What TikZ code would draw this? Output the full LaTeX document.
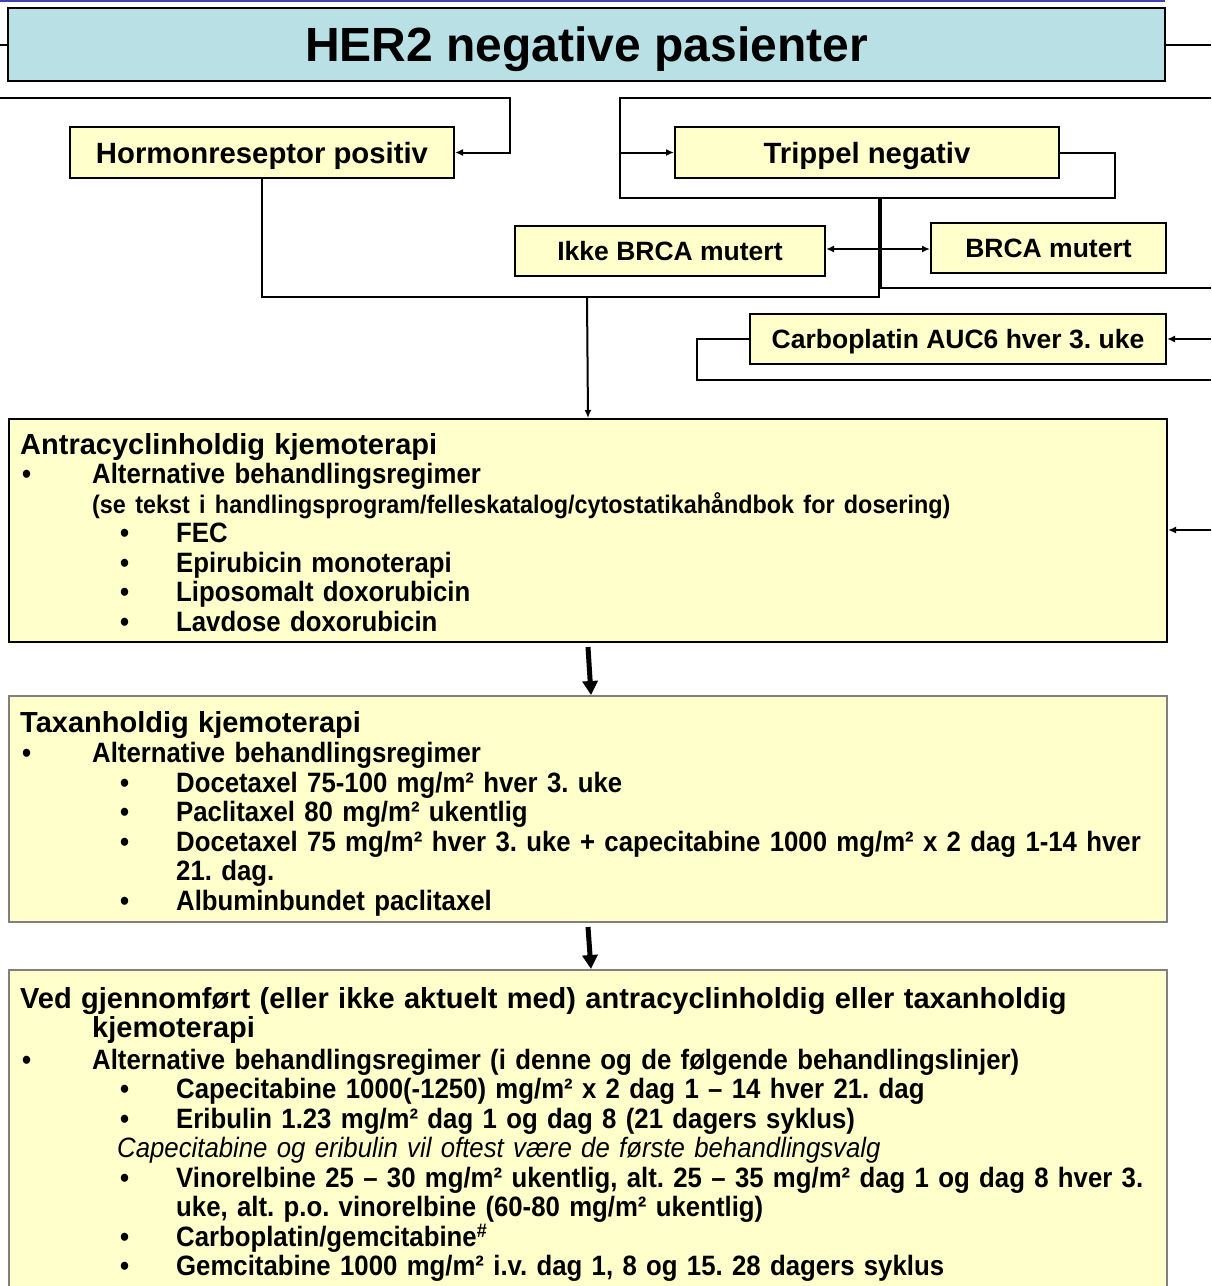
\documentclass[tikz,border=0pt]{standalone}
\usepackage{fontspec}
\setmainfont{Liberation Sans}
\newfontfamily\narrowsans[FakeStretch=0.92]{Liberation Sans}
\usetikzlibrary{arrows.meta, positioning}
\frenchspacing

\definecolor{slideblue}{RGB}{64,64,176}
\definecolor{titlefill}{RGB}{185,224,228}
\definecolor{boxfill}{RGB}{255,255,204}
\definecolor{boxgrey}{RGB}{128,128,128}

% bullet levels and hanging indents
\newcommand{\bula}{\hspace*{2pt}\makebox[70pt][l]{\textbullet}}
\newcommand{\bulb}{\hspace*{100pt}\makebox[56pt][l]{\textbullet}}
\newcommand{\hanga}{\hspace*{72pt}}
\newcommand{\hangb}{\hspace*{156pt}}
\newcommand{\headfont}{\rmfamily\bfseries\fontsize{29pt}{29.5pt}\selectfont}

\begin{document}
\begin{tikzpicture}[
  x=1pt, y=-1pt,
  font=\narrowsans\bfseries\fontsize{28pt}{29.5pt}\selectfont,
  titlebox/.style={draw=black, line width=2pt, fill=titlefill, inner sep=0pt,
                   minimum width=1157pt, minimum height=73pt, text depth=0pt,
                   font=\bfseries\fontsize{48pt}{50pt}\selectfont},
  smallbox/.style={draw=black, line width=2pt, fill=boxfill, inner sep=0pt,
                   text depth=0pt},
  upper/.style={smallbox, font=\bfseries\fontsize{29.3pt}{30pt}\selectfont},
  lower/.style={smallbox, font=\bfseries\fontsize{26.5pt}{28pt}\selectfont},
  bigbox/.style={draw=black, line width=2pt, fill=boxfill, inner sep=0pt,
                 minimum width=1158pt, anchor=north west},
  greybox/.style={bigbox, draw=boxgrey},
  boxtext/.style={anchor=north west, inner sep=0pt, text width=1180pt, align=left},
  conn/.style={line width=2pt},
  arr/.style={conn, -{Latex[length=8pt, width=7pt]}},
  bigarr/.style={line width=5pt, -{Triangle[length=14pt, width=15pt]}}]

  \useasboundingbox (0,0) rectangle (1211,1286);

  % slide frame line
  \draw[slideblue, line width=2pt] (0,1) -- (1165,1);

  \node[titlebox] (title) at (586.5,44.5) {HER2 negative pasienter};

  \node[upper, minimum width=384pt, minimum height=51pt] (hormon)
    at (262,152.5) {Hormonreseptor positiv};
  \node[upper, minimum width=384pt, minimum height=51pt] (trippel)
    at (867,152.5) {Trippel negativ};
  \node[lower, minimum width=310pt, minimum height=50pt] (ikke)
    at (670,251) {Ikke BRCA mutert};
  \node[lower, minimum width=235pt, minimum height=50pt] (brca)
    at (1048.5,248) {BRCA mutert};
  \node[lower, minimum width=416pt, minimum height=50pt] (carbo)
    at (958,339) {Carboplatin AUC6 hver 3. uke};

  \node[bigbox, minimum height=223pt] (antra) at (8,418) {};
  \node[greybox, minimum height=226pt] (taxan) at (8,695) {};
  \node[greybox, minimum height=340pt] (ved) at (8,969) {};

  \node[boxtext] (antratext) at (20,433) {{\headfont Antracyclinholdig kjemoterapi}\\
    \bula Alternative behandlingsregimer\\
    \hanga{\fontsize{25.4pt}{29.5pt}\selectfont (se tekst i handlingsprogram/felleskatalog/cytostatikahåndbok for dosering)}\\
    \bulb FEC\\
    \bulb Epirubicin monoterapi\\
    \bulb Liposomalt doxorubicin\\
    \bulb Lavdose doxorubicin};

  \node[boxtext] (taxantext) at (20,711) {{\headfont Taxanholdig kjemoterapi}\\[1pt]
    \bula Alternative behandlingsregimer\\
    \bulb Docetaxel 75-100 mg/m² hver 3. uke\\
    \bulb Paclitaxel 80 mg/m² ukentlig\\
    \bulb Docetaxel 75 mg/m² hver 3. uke + capecitabine 1000 mg/m² x 2 dag 1-14 hver\\
    \hangb 21. dag.\\
    \bulb Albuminbundet paclitaxel};

  \node[boxtext] (vedtext) at (20,987) {{\headfont Ved gjennomført (eller ikke aktuelt med) antracyclinholdig eller taxanholdig}\\
    \hanga{\headfont kjemoterapi}\\[2pt]
    \bula Alternative behandlingsregimer (i denne og de følgende behandlingslinjer)\\
    \bulb Capecitabine 1000(-1250) mg/m² x 2 dag 1 – 14 hver 21. dag\\
    \bulb Eribulin 1.23 mg/m² dag 1 og dag 8 (21 dagers syklus)\\
    \hspace*{97pt}{\mdseries\itshape Capecitabine og eribulin vil oftest være de første behandlingsvalg}\\
    \bulb Vinorelbine 25 – 30 mg/m² ukentlig, alt. 25 – 35 mg/m² dag 1 og dag 8 hver 3.\\
    \hangb uke, alt. p.o. vinorelbine (60-80 mg/m² ukentlig)\\
    \bulb Carboplatin/gemcitabine\textsuperscript{\#}\\
    \bulb Gemcitabine 1000 mg/m² i.v. dag 1, 8 og 15. 28 dagers syklus};

  % loose ends at the picture edge
  \coordinate (tl) at (0,44.5);
  \coordinate (tr) at (1211,44.5);
  \coordinate (hin) at (0,98);
  \coordinate (tin) at (1211,98);
  \coordinate (bout) at (1211,288);
  \coordinate (cin) at (1211,339);
  \coordinate (cout) at (1211,380);
  \coordinate (ain) at (1211,530);
  \coordinate (split) at (880,249);
  \coordinate (join) at (587,297);

  \draw[conn] (tl) -- (title.west);
  \draw[conn] (title.east) -- (tr);
  \draw[arr] (hin) -- (510,98) |- (hormon.east);
  \draw[arr] (tin) -- (620,98) |- (trippel.west);
  \draw[conn] (trippel.east) -- (1115,152.5) |- (620,198) -- (620,152.5);
  \draw[conn] (hormon.south) |- (879,297) -- (879,198);
  \draw[conn] (881,198) |- (bout);
  \draw[arr] (split) -- (ikke.east |- split);
  \draw[arr] (split) -- (brca.west |- split);
  \draw[arr] (join) -- (antra.north);
  \draw[arr] (cin) -- (carbo.east);
  \draw[conn] (carbo.west) -- (697,339) |- (cout);
  \draw[arr] (ain) -- (antra.east |- ain);
  \draw[bigarr] ([yshift=-4pt]antra.south) -- ([xshift=3pt]taxan.north);
  \draw[bigarr] ([yshift=-4pt]taxan.south) -- ([xshift=3pt]ved.north);
\end{tikzpicture}
\end{document}
